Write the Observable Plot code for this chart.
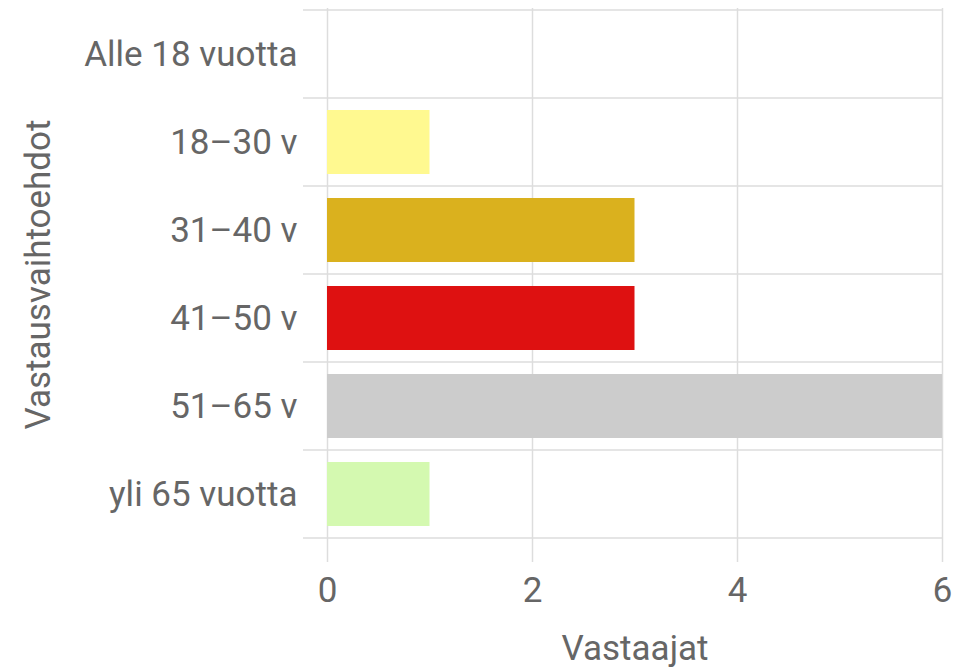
<!DOCTYPE html>
<html><head><meta charset="utf-8">
<script src="https://cdn.jsdelivr.net/npm/d3@7"></script>
<script src="https://cdn.jsdelivr.net/npm/@observablehq/plot@0.6"></script>
<style>body{margin:0;background:#fff}</style>
</head><body><div id="chart"></div>
<script>
const categories = ["Alle 18 vuotta", "18–30 v", "31–40 v", "41–50 v", "51–65 v", "yli 65 vuotta"];
const values = [0, 1, 3, 3, 6, 1];
const colors = ["#7cb5ec", "#fff990", "#dab11e", "#de1111", "#cccccc", "#d4f9b0"];
const xTicks = [0, 2, 4, 6];
const xLabel = "Vastaajat";
const yLabel = "Vastausvaihtoehdot";

const data = categories.map((c, i) => ({category: c, value: values[i], color: colors[i]}));

const gridColor = "#dddddd";

function bandBoundaries(index, scales, values, dims) {
  const y = scales.y;
  const bw = y.bandwidth();
  const ys = categories.map(c => y(c)).concat([y(categories[categories.length - 1]) + bw]);
  const g = d3.create("svg:g");
  g.selectAll("line").data(ys).join("line")
    .attr("x1", dims.marginLeft - 24)
    .attr("x2", dims.width - dims.marginRight)
    .attr("y1", d => d).attr("y2", d => d)
    .attr("stroke", gridColor).attr("stroke-width", 1.5);
  return g.node();
}

const chart = Plot.plot({
  width: 972, height: 669,
  marginLeft: 327, marginRight: 30, marginTop: 8, marginBottom: 129,
  style: {fontFamily: "Roboto, sans-serif", fontSize: "35px", color: "#666", background: "#fff", overflow: "visible"},
  x: {domain: [0, 6], label: null},
  y: {domain: categories, padding: 0, label: null},
  marks: [
    Plot.gridX(xTicks, {stroke: gridColor, strokeOpacity: 1, strokeWidth: 1.5}),
    bandBoundaries,
    Plot.barX(data, {x: "value", y: "category", fill: "color", insetTop: 12, insetBottom: 12}),
    Plot.axisX(xTicks, {tickSize: 22, stroke: gridColor, strokeOpacity: 1, strokeWidth: 1.5, tickPadding: 15, fill: "#666",
      label: xLabel, labelAnchor: "center", labelArrow: "none", labelOffset: 119}),
    Plot.axisY({tickSize: 0, tickPadding: 30, fill: "#666",
      label: yLabel, labelAnchor: "center", labelArrow: "none", labelOffset: 302})
  ]
});
document.getElementById("chart").appendChild(chart);
</script>
</body></html>
